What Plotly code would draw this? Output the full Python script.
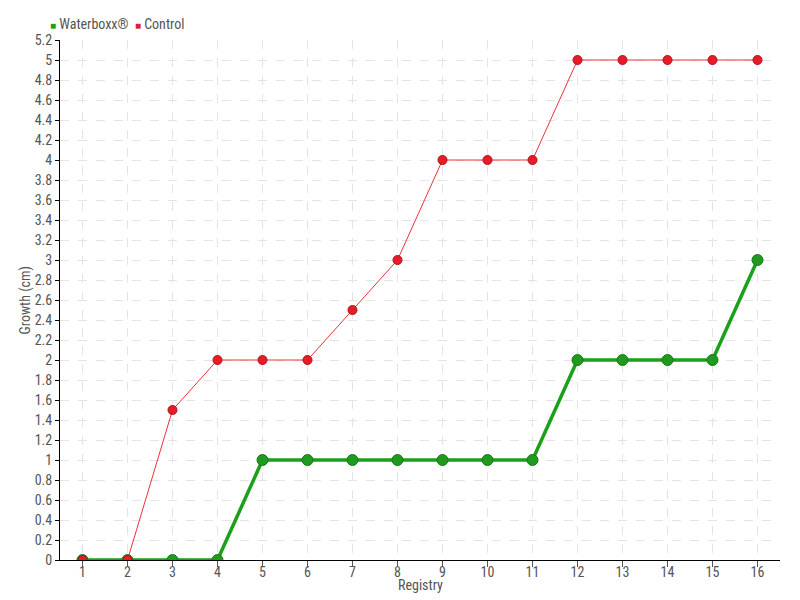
import plotly.graph_objects as go

registry = list(range(1, 17))
waterboxx = [0, 0, 0, 0, 1, 1, 1, 1, 1, 1, 1, 2, 2, 2, 2, 3]
control = [0, 0, 1.5, 2, 2, 2, 2.5, 3, 4, 4, 4, 5, 5, 5, 5, 5]
series_names = ["Waterboxx®", "Control"]
series_colors = ["#1aa01a", "#e81c28"]
x_title = "Registry"
y_title = "Growth (cm)"

FONT = "Liberation Sans Narrow, Roboto Condensed, Roboto, sans-serif"

fig = go.Figure()
fig.add_trace(go.Scatter(
    x=registry, y=waterboxx, name=series_names[0], mode="lines+markers",
    line=dict(color="#1aa01a", width=3.5),
    marker=dict(size=11, color="#1f9a1f", line=dict(color="#177a17", width=1)),
    showlegend=False,
))
fig.add_trace(go.Scatter(
    x=registry, y=control, name=series_names[1], mode="lines+markers",
    line=dict(color="#f0303a", width=1),
    marker=dict(size=9, color="#e81c28", line=dict(color="#b01018", width=1)),
    showlegend=False,
))

legend_text = "&nbsp;&nbsp;".join(
    f"<span style='color:{c};font-size:10px'>■</span>&nbsp;{n}"
    for n, c in zip(series_names, series_colors)
)
fig.add_annotation(
    text=legend_text, xref="paper", yref="paper", x=-0.016, y=1.012,
    xanchor="left", yanchor="bottom", showarrow=False,
    font=dict(family=FONT, size=14, color="#555"),
)
fig.add_annotation(
    text=x_title, xref="paper", yref="paper", x=0.5, y=-0.029,
    xanchor="center", yanchor="top", showarrow=False,
    font=dict(family=FONT, size=14, color="#555"),
)
fig.add_annotation(
    text=y_title, xref="paper", yref="paper", x=-0.048, y=0.5, textangle=-90,
    xanchor="center", yanchor="middle", showarrow=False,
    font=dict(family=FONT, size=14, color="#555"),
)

fig.update_layout(
    width=800, height=600,
    margin=dict(l=52, r=28, t=32, b=48, autoexpand=False),
    paper_bgcolor="white", plot_bgcolor="white",
    font=dict(family=FONT, size=14, color="#555"),
    showlegend=False,
    xaxis=dict(
        range=[0.5, 16.5], tickmode="array", tickvals=registry,
        showline=True, linecolor="black", linewidth=1,
        ticks="outside", ticklen=6, tickcolor="#555",
        ticklabelstandoff=-7,
        showgrid=True, gridcolor="#e4e4e4", griddash="dash", gridwidth=1,
        zeroline=False, automargin=False,
    ),
    yaxis=dict(
        range=[0, 5.2], dtick=0.2, tick0=0,
        showline=True, linecolor="black", linewidth=1,
        ticks="outside", ticklen=4, tickcolor="black",
        showgrid=True, gridcolor="#e4e4e4", griddash="dash", gridwidth=1,
        zeroline=False, automargin=False,
    ),
)

fig.write_html("out.html")
